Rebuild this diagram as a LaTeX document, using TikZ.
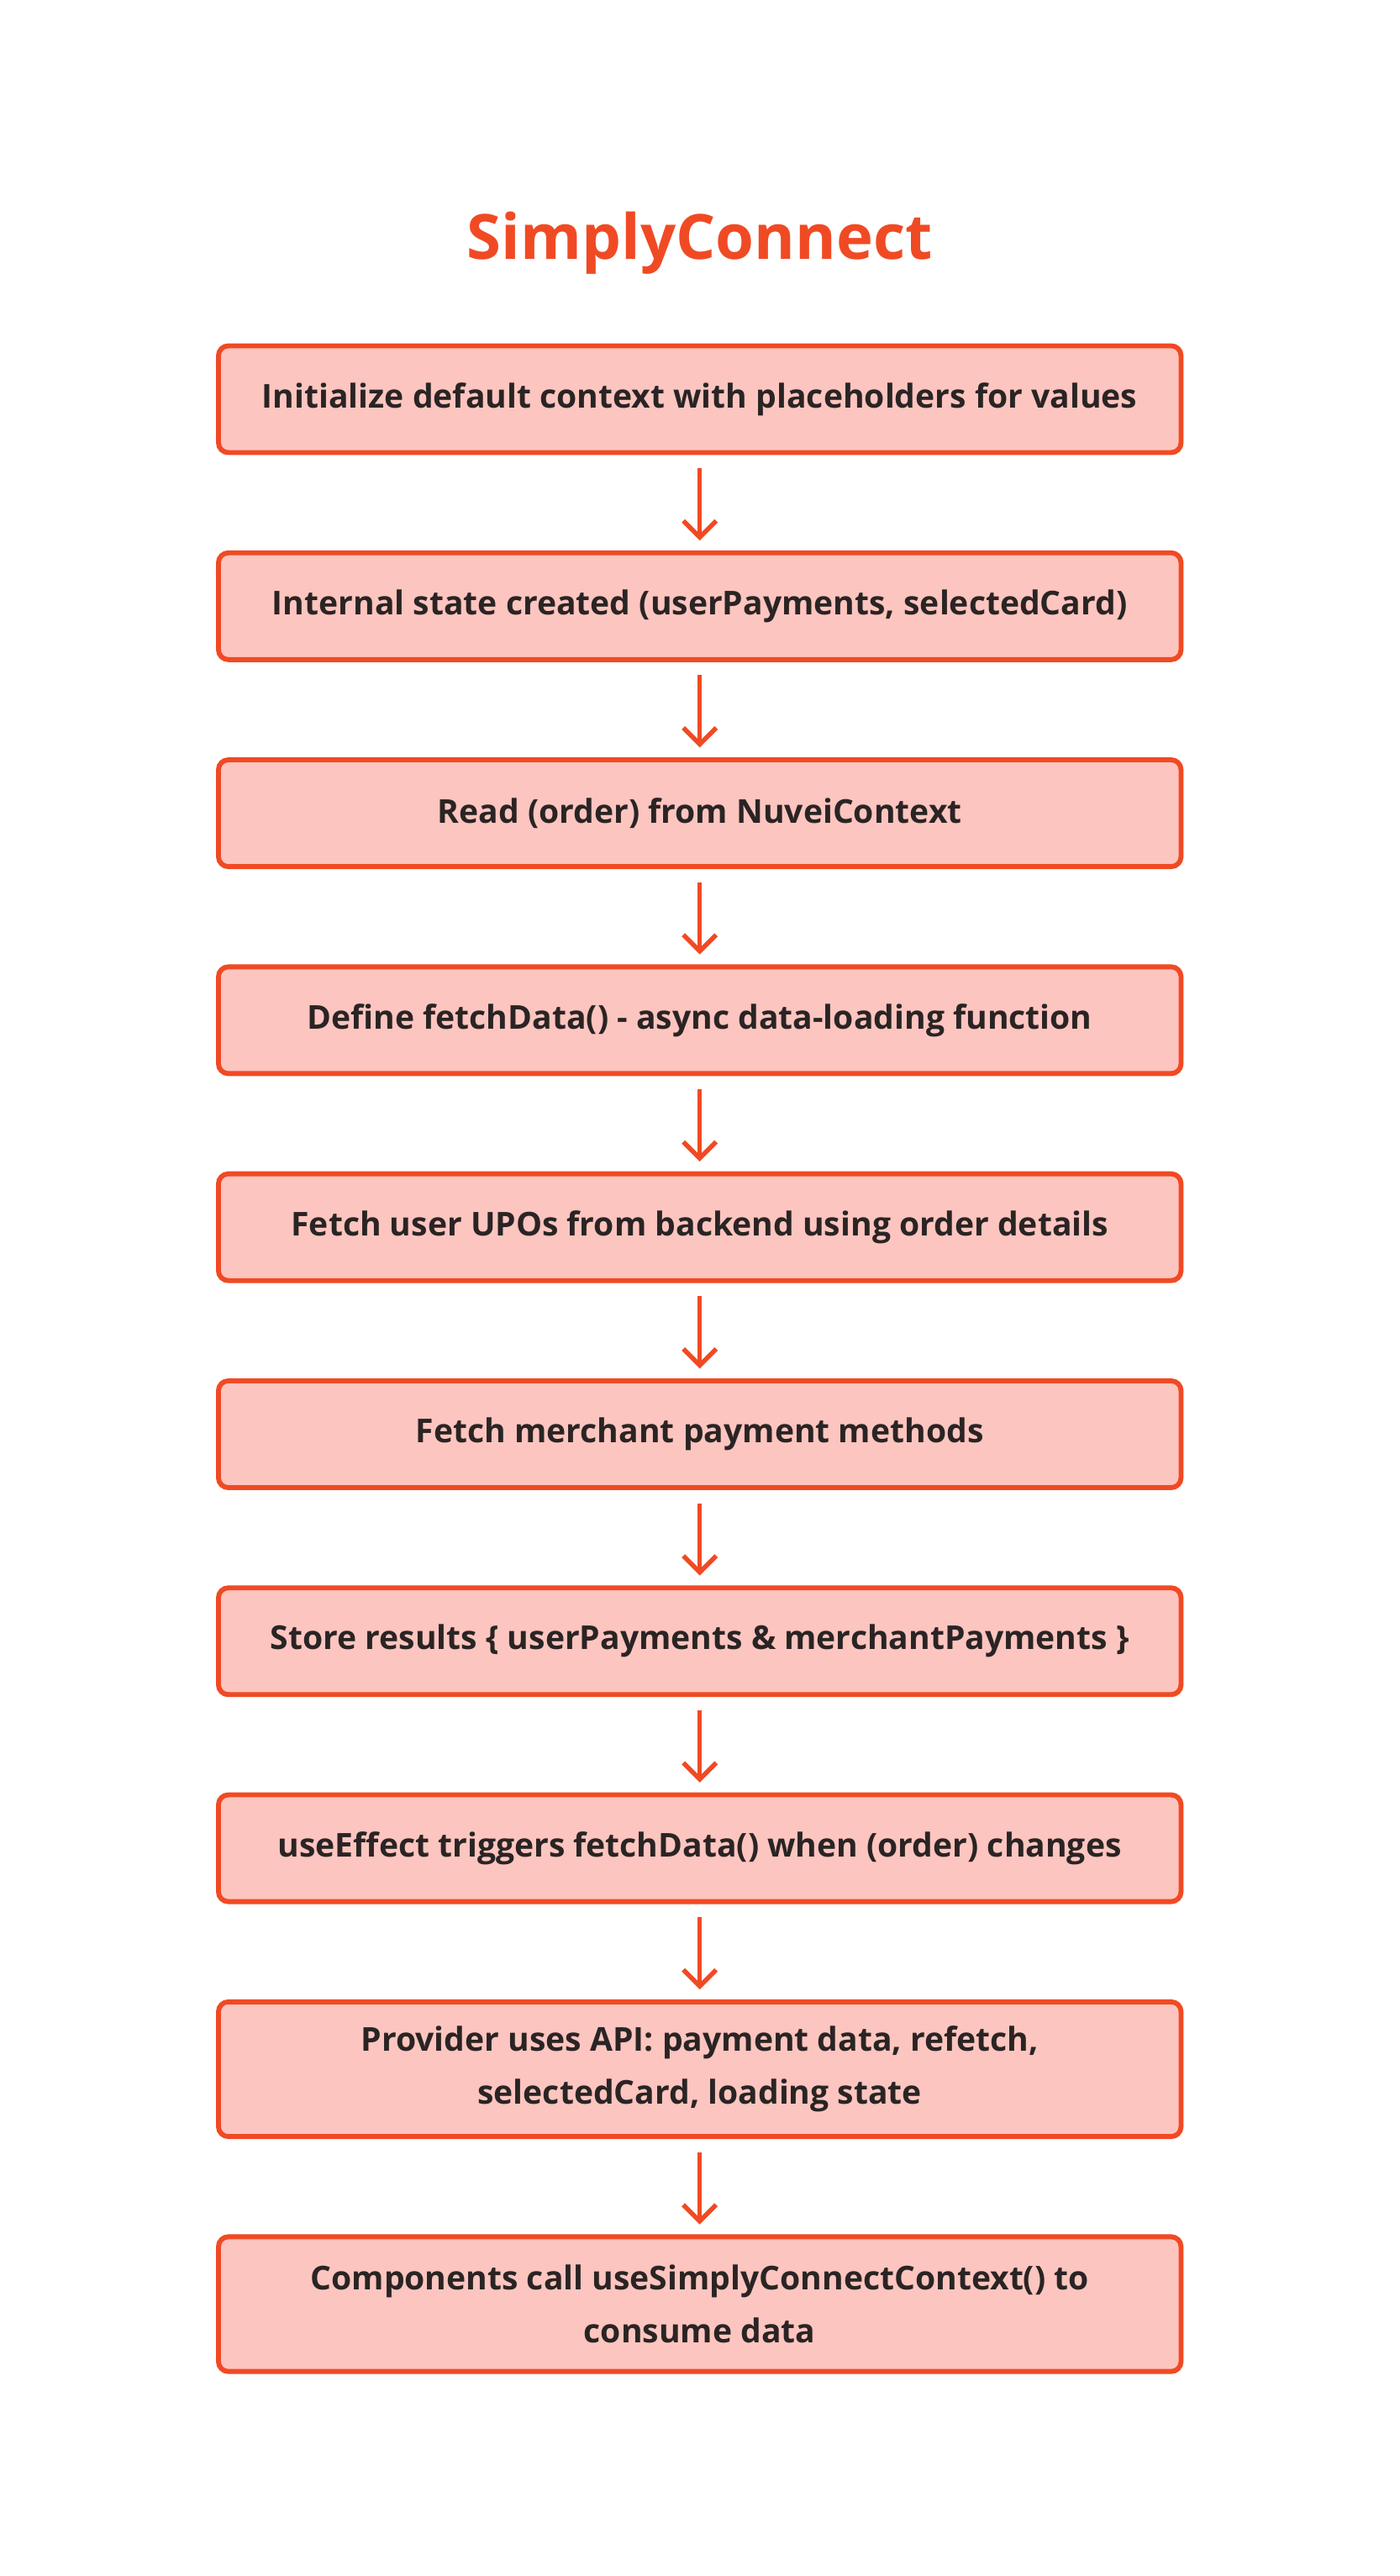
\documentclass[tikz,border=0pt]{standalone}
\usepackage{fontspec}
\setmainfont{Open Sans}
\usetikzlibrary{positioning,arrows.meta}
\definecolor{sred}{HTML}{F04A24}
\definecolor{sfill}{HTML}{FDC5BF}
\definecolor{stext}{HTML}{2A2424}

\begin{document}
\begin{tikzpicture}[x=1pt,y=1pt,node distance=29pt,
  stage/.style={draw=sred,fill=sfill,line width=1.5pt,rounded corners=3pt,
    minimum width=293pt,minimum height=32.5pt,align=center,
    text=stext,font=\bfseries\fontsize{10}{16}\selectfont,inner sep=2pt},
  flow/.style={draw=sred,line width=1.4pt,-{Straight Barb[length=5pt,width=10pt]},
    shorten <=4pt,shorten >=3pt}]

\useasboundingbox (0,0) rectangle (426,-784);

\node[text=sred,font=\bfseries\fontsize{19}{22}\selectfont] (title) at (213,-74) {SimplyConnect};

\node[stage] (init) at (213,-121.5) {Initialize default context with placeholders for values};
\node[stage,below=of init] (state) {Internal state created (userPayments, selectedCard)};
\node[stage,below=of state] (read) {Read (order) from NuveiContext};
\node[stage,below=of read] (define) {Define fetchData() - async data-loading function};
\node[stage,below=of define] (upos) {Fetch user UPOs from backend using order details};
\node[stage,below=of upos] (merchant) {Fetch merchant payment methods};
\node[stage,below=of merchant] (store) {Store results \{ userPayments \& merchantPayments \}};
\node[stage,below=of store] (effect) {useEffect triggers fetchData() when (order) changes};
\node[stage,below=of effect,minimum height=41pt] (provider) {Provider uses API: payment data, refetch,\\selectedCard, loading state};
\node[stage,below=of provider,minimum height=41pt] (consume) {Components call useSimplyConnectContext() to\\consume data};

% arrows
\draw[flow] (init) -- (state);
\draw[flow] (state) -- (read);
\draw[flow] (read) -- (define);
\draw[flow] (define) -- (upos);
\draw[flow] (upos) -- (merchant);
\draw[flow] (merchant) -- (store);
\draw[flow] (store) -- (effect);
\draw[flow] (effect) -- (provider);
\draw[flow] (provider) -- (consume);

\end{tikzpicture}
\end{document}
